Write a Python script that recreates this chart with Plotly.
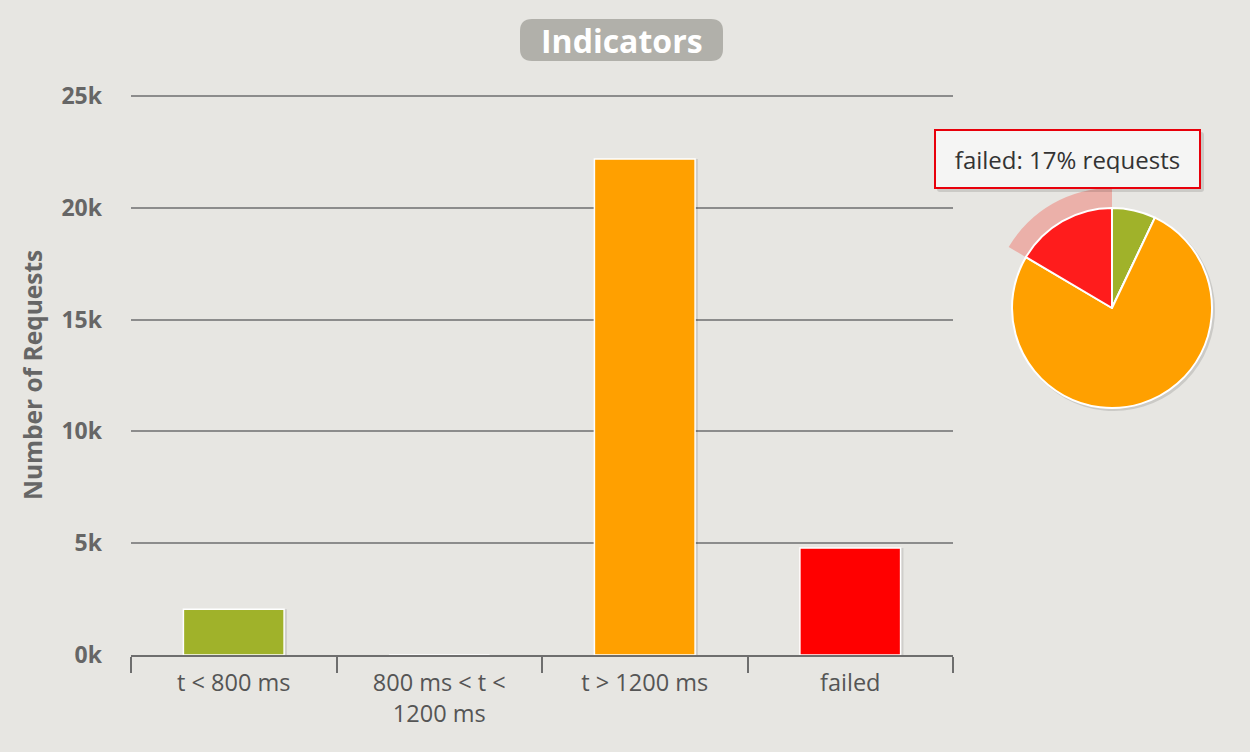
import plotly.graph_objects as go

# ---- data ----
categories = ["t < 800 ms", "800 ms < t <<br>1200 ms", "t > 1200 ms", "failed"]
pie_labels = ["t < 800 ms", "800 ms < t < 1200 ms", "t > 1200 ms", "failed"]
requests = [2050, 0, 22180, 4790]
bar_colors = ["#A0B22A", "#FFA000", "#FFA000", "#FF0000"]
pie_colors = ["#A0B22A", "#FFA000", "#FFA000", "#FF1C1C"]
y_tickvals = [0, 5000, 10000, 15000, 20000, 25000]
y_ticktext = ["0k", "5k", "10k", "15k", "20k", "25k"]
title_text = "Indicators"
y_title = "Number of Requests"
tooltip_text = "failed: 17% requests"

W, H = 1250, 752
BG = "#E7E6E2"
FONT = "Open Sans"

# axis geometry (pixels): 0 at y=655, 25k at y=96
Y0_PX, Y25_PX = 655, 96
Y_MAX = 25000
PAD_PX = 6
PX_PER_UNIT = (Y0_PX - Y25_PX) / Y_MAX
Y_TOP = Y_MAX + PAD_PX / PX_PER_UNIT

BAR_W = 0.49


def px_x(p):
    return p / W


def px_y(p):
    return 1 - p / H


def rounded_rect(x0, y0, x1, y1, r):
    rx = r / W
    ry = r / H
    X0, X1 = px_x(x0), px_x(x1)
    Y0, Y1 = px_y(y0), px_y(y1)
    return (f"M {X0+rx},{Y0} L {X1-rx},{Y0} Q {X1},{Y0} {X1},{Y0-ry} "
            f"L {X1},{Y1+ry} Q {X1},{Y1} {X1-rx},{Y1} L {X0+rx},{Y1} "
            f"Q {X0},{Y1} {X0},{Y1+ry} L {X0},{Y0-ry} Q {X0},{Y0} {X0+rx},{Y0} Z")


fig = go.Figure()

# bar shadow
fig.add_trace(go.Bar(
    x=categories, y=requests,
    marker=dict(color="rgba(0,0,0,0.10)", line=dict(width=0)),
    width=BAR_W, offset=-BAR_W / 2 + 0.014, hoverinfo="skip", showlegend=False,
))
fig.add_trace(go.Bar(
    x=categories, y=requests,
    marker=dict(color=bar_colors, line=dict(color="white", width=1.5)),
    width=BAR_W, offset=-BAR_W / 2, hoverinfo="skip", showlegend=False,
))

# pie shadow
fig.add_trace(go.Pie(
    labels=pie_labels, values=requests, sort=False, direction="clockwise", rotation=0,
    domain=dict(x=[px_x(1013), px_x(1215)], y=[px_y(411), px_y(209)]),
    marker=dict(colors=["rgba(0,0,0,0.12)"] * 4, line=dict(width=0)),
    textinfo="none", hoverinfo="skip", showlegend=False,
))
# halo around hovered slice
fig.add_trace(go.Pie(
    labels=pie_labels, values=requests, sort=False, direction="clockwise", rotation=0,
    hole=100 / 120,
    domain=dict(x=[px_x(992), px_x(1232)], y=[px_y(428), px_y(188)]),
    marker=dict(colors=["rgba(0,0,0,0)", "rgba(0,0,0,0)", "rgba(0,0,0,0)",
                        "rgba(240,110,100,0.45)"], line=dict(width=0)),
    textinfo="none", hoverinfo="skip", showlegend=False,
))
# main pie
fig.add_trace(go.Pie(
    labels=pie_labels, values=requests, sort=False, direction="clockwise", rotation=0,
    domain=dict(x=[px_x(1012), px_x(1212)], y=[px_y(408), px_y(208)]),
    marker=dict(colors=pie_colors, line=dict(color="white", width=2)),
    textinfo="none", hoverinfo="skip", showlegend=False,
))

fig.update_layout(
    width=W, height=H,
    margin=dict(l=0, r=0, t=0, b=0, autoexpand=False),
    paper_bgcolor=BG, plot_bgcolor=BG,
    showlegend=False,
    barmode="overlay",
    xaxis=dict(
        domain=[px_x(131), px_x(953)],
        type="category", range=[-0.5, 3.5], automargin=False,
        showline=True, linecolor="#6E6E6E", linewidth=2,
        ticks="outside", tickson="boundaries", ticklen=16, tickwidth=2, tickcolor="#6E6E6E",
        ticklabelstandoff=6,
        tickfont=dict(family=FONT, size=23.5, color="#555555"),
        showgrid=False, zeroline=False, fixedrange=True,
    ),
    yaxis=dict(
        domain=[px_y(Y0_PX), px_y(Y25_PX - PAD_PX)], automargin=False,
        range=[0, Y_TOP], tickvals=y_tickvals, ticktext=y_ticktext,
        showgrid=True, gridcolor="#8C8C8C", gridwidth=1.5,
        zeroline=False, showline=False, ticks="",
        ticklabelstandoff=28,
        tickfont=dict(family=FONT, size=23, color="#666666", weight="bold"),
        fixedrange=True,
    ),
    shapes=[
        dict(type="path", xref="paper", yref="paper", layer="above",
             path=rounded_rect(520, 19, 723, 61, 12),
             fillcolor="#B1B0AA", line=dict(width=0)),
        dict(type="path", xref="paper", yref="paper", layer="above",
             path=rounded_rect(937, 132, 1204, 192, 3),
             fillcolor="rgba(0,0,0,0.12)", line=dict(width=0)),
    ],
    annotations=[
        dict(text=title_text, xref="paper", yref="paper", x=px_x(621.5), y=px_y(40),
             xanchor="center", yanchor="middle", showarrow=False,
             font=dict(family=FONT, size=32, color="white", weight="bold")),
        dict(text=y_title, xref="paper", yref="paper", x=px_x(32), y=px_y(375),
             xanchor="center", yanchor="middle", textangle=-90, showarrow=False,
             font=dict(family=FONT, size=24.5, color="#666666", weight="bold")),
        dict(text=tooltip_text, xref="paper", yref="paper", x=px_x(1067.5), y=px_y(159),
             xanchor="center", yanchor="middle", showarrow=False,
             width=235, height=28, borderpad=14, borderwidth=2, bordercolor="#E8000B",
             bgcolor="#F5F5F4", align="center",
             font=dict(family=FONT, size=24, color="#333333")),
    ],
)

fig.write_html("out.html")
